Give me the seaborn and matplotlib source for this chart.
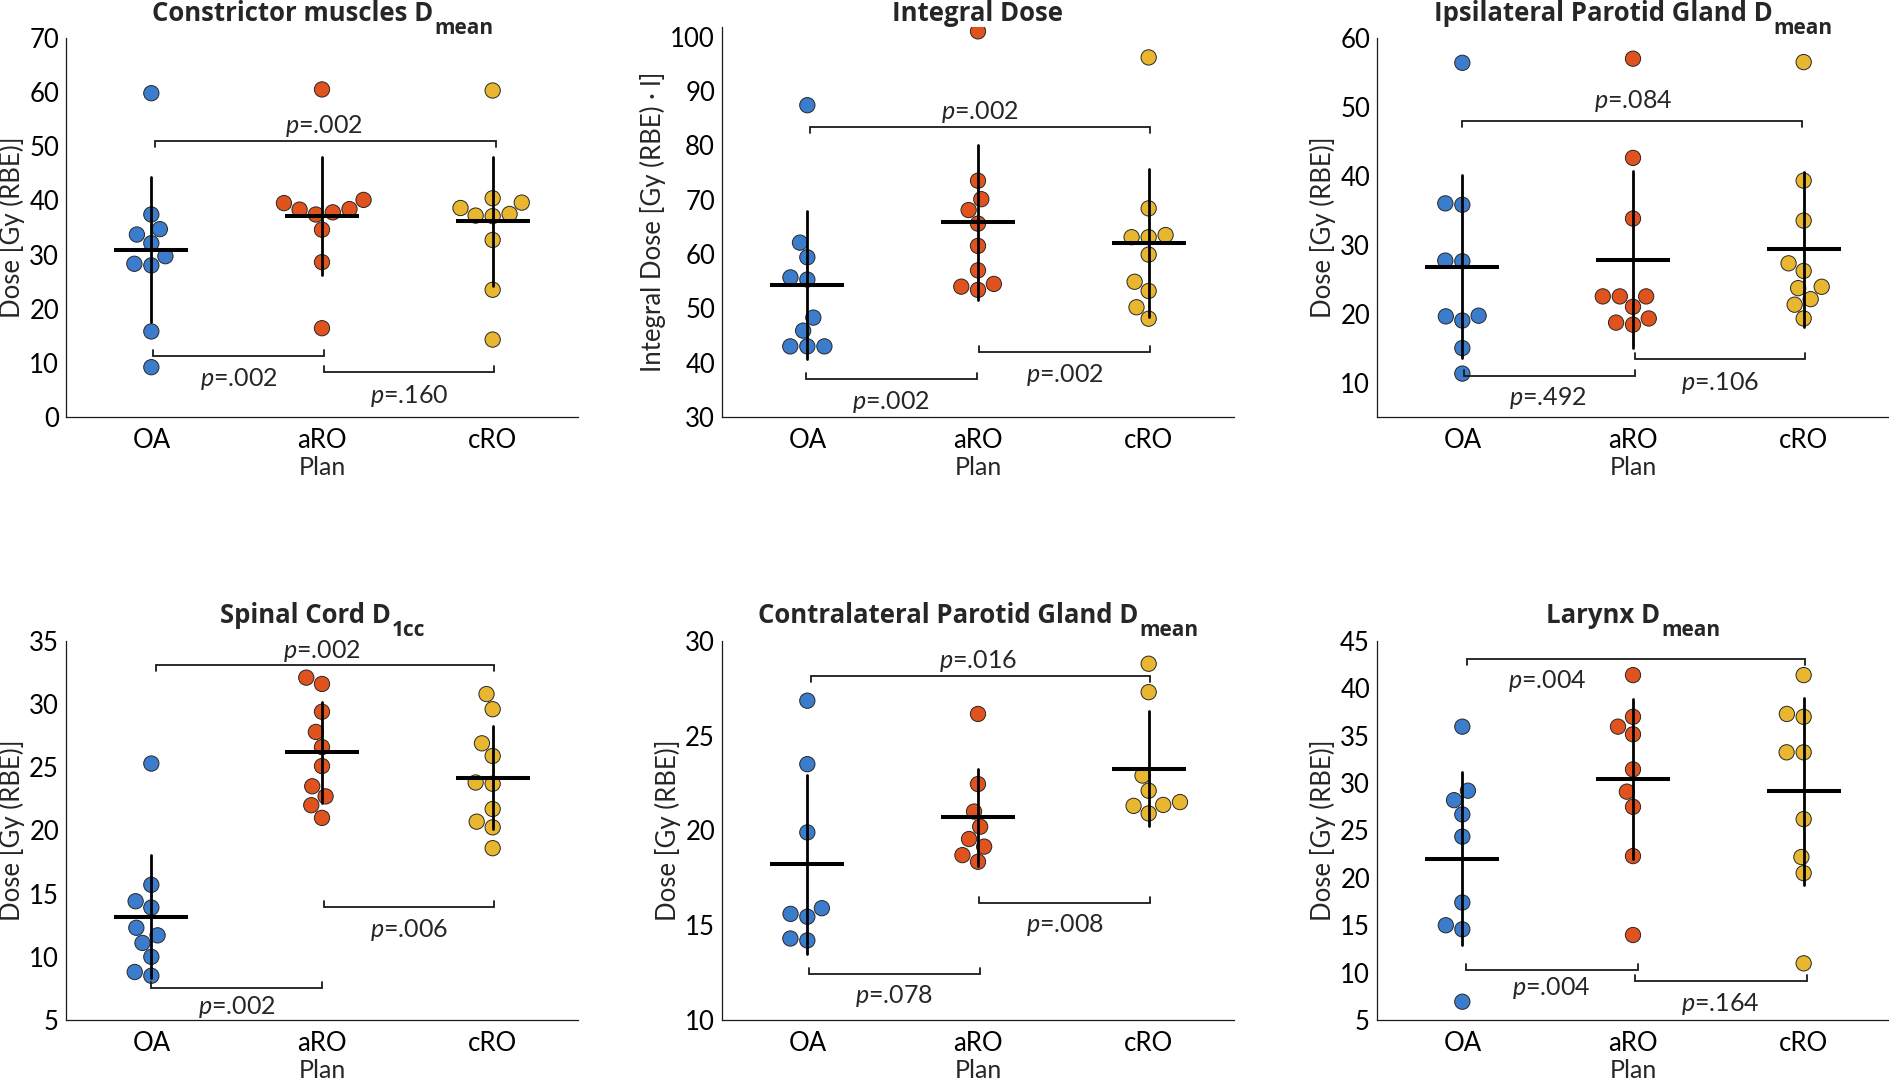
import numpy as np
import pandas as pd
import matplotlib
matplotlib.use('Agg')
import matplotlib.pyplot as plt
import matplotlib.transforms as mtransforms
import seaborn as sns

# Plans and colours
plans = ['OA', 'aRO', 'cRO']
plan_colors = ['#3b7dcc', '#e0531f', '#e8b72f']

# Doses (one value per patient)
constrictor_oa = [59.8, 37.4, 34.7, 33.7, 32.1, 29.7, 28.3, 28.0, 15.8, 9.2]
constrictor_aro = [60.5, 40.1, 39.5, 38.4, 38.3, 37.8, 37.4, 34.6, 28.6, 16.4]
constrictor_cro = [60.3, 40.4, 39.6, 38.6, 37.5, 37.2, 37.1, 32.7, 23.5, 14.3]

integral_oa = [87.4, 62.1, 59.4, 55.7, 55.3, 48.3, 45.9, 43.0, 43.0, 43.0]
integral_aro = [101.0, 73.5, 70.1, 68.1, 65.6, 61.5, 57.0, 54.5, 54.0, 53.4]
integral_cro = [96.2, 68.4, 63.5, 63.1, 63.1, 59.9, 54.9, 53.2, 50.2, 48.1]

ipsi_oa = [56.4, 36.0, 35.8, 27.7, 27.6, 19.7, 19.6, 19.0, 15.0, 11.3]
ipsi_aro = [57.0, 42.6, 33.8, 22.5, 22.5, 22.5, 21.0, 19.3, 18.7, 18.4]
ipsi_cro = [56.5, 39.3, 33.5, 27.3, 26.2, 23.9, 23.7, 22.1, 21.3, 19.3]

spinal_oa = [25.3, 15.7, 14.4, 13.9, 12.3, 11.7, 11.1, 10.0, 8.8, 8.5]
spinal_aro = [32.1, 31.6, 29.4, 27.8, 26.6, 25.1, 23.5, 22.7, 22.0, 21.0]
spinal_cro = [30.8, 29.6, 26.9, 25.9, 23.8, 23.7, 21.7, 20.7, 20.25, 18.6]

contra_oa = [26.85, 23.5, 19.9, 15.9, 15.6, 15.45, 14.3, 14.2]
contra_aro = [26.15, 22.45, 21.0, 20.2, 19.55, 19.15, 18.7, 18.35]
contra_cro = [28.8, 27.3, 22.9, 22.1, 21.5, 21.35, 21.3, 20.9]

larynx_oa = [35.96, 29.2, 28.2, 26.7, 24.35, 17.4, 15.0, 14.57, 6.93]
larynx_aro = [41.4, 37.0, 35.96, 35.15, 31.45, 29.1, 27.5, 22.3, 13.97]
larynx_cro = [41.4, 37.3, 37.0, 33.25, 33.25, 26.2, 22.2, 20.5, 10.98]

# p-values of the pairwise tests: (OA vs cRO, OA vs aRO, aRO vs cRO)
p_constrictor = ['.002', '.002', '.160']
p_integral = ['.002', '.002', '.002']
p_ipsi = ['.084', '.492', '.106']
p_spinal = ['.002', '.002', '.006']
p_contra = ['.016', '.078', '.008']
p_larynx = ['.004', '.004', '.164']

sns.set_style('white')
plt.rcParams['font.family'] = ['Lato', 'DejaVu Sans']
plt.rcParams['mathtext.fontset'] = 'custom'
plt.rcParams['mathtext.it'] = 'Lato:italic'
plt.rcParams['mathtext.rm'] = 'Lato'
plt.rcParams['font.size'] = 18

W, H = 1890, 1082
fig = plt.figure(figsize=(W / 100, H / 100), dpi=100)

# layout (pixels): left, top, width, height, title baseline
# brackets: x1, x2, y, leg direction, text x, text y
panels = [
    dict(main='Constrictor muscles D', sub='mean', ylabel='Dose [Gy (RBE)]',
         values=[constrictor_oa, constrictor_aro, constrictor_cro], pvals=p_constrictor,
         ylim=(0, 70), ticks=np.arange(0, 71, 10), box=(66, 38, 512, 379), tb=21,
         brackets=[(0.02, 2.02, 50.9, -1, 1.01, 54.0), (0.01, 1.01, 11.3, 1, 0.51, 7.2),
                   (1.01, 2.01, 8.24, 1, 1.51, 4.1)]),
    dict(main='Integral Dose', sub='', ylabel='Integral Dose [Gy (RBE) · l]',
         values=[integral_oa, integral_aro, integral_cro], pvals=p_integral,
         ylim=(30, 101.8), ticks=np.arange(30, 101, 10), box=(722, 27, 512, 390), tb=21,
         brackets=[(0.016, 2.007, 83.3, -1, 1.01, 86.3), (-0.007, 0.993, 37.0, 1, 0.49, 33.0),
                   (1.007, 2.01, 41.9, 1, 1.51, 37.9)]),
    dict(main='Ipsilateral Parotid Gland D', sub='mean', ylabel='Dose [Gy (RBE)]',
         values=[ipsi_oa, ipsi_aro, ipsi_cro], pvals=p_ipsi,
         ylim=(5, 60), ticks=np.arange(10, 61, 10), box=(1377, 38, 512, 379), tb=21,
         brackets=[(0.0, 1.99, 48.0, -1, 1.0, 51.0), (0.007, 1.01, 11.0, 1, 0.5, 7.9),
                   (1.014, 2.01, 13.4, 1, 1.51, 10.1)]),
    dict(main='Spinal Cord D', sub='1cc', ylabel='Dose [Gy (RBE)]',
         values=[spinal_oa, spinal_aro, spinal_cro], pvals=p_spinal,
         ylim=(5, 35), ticks=np.arange(5, 36, 5), box=(66, 641, 512, 379), tb=623,
         brackets=[(0.026, 2.01, 33.1, -1, 1.0, 34.3), (0.0, 1.0, 7.5, 1, 0.5, 6.1),
                   (1.014, 2.01, 13.97, 1, 1.51, 12.2)]),
    dict(main='Contralateral Parotid Gland D', sub='mean', ylabel='Dose [Gy (RBE)]',
         values=[contra_oa, contra_aro, contra_cro], pvals=p_contra,
         ylim=(10, 30), ticks=np.arange(10, 31, 5), box=(722, 641, 512, 379), tb=623,
         brackets=[(0.02, 2.007, 28.17, -1, 1.0, 29.0), (0.01, 1.01, 12.41, 1, 0.51, 11.3),
                   (1.007, 2.01, 16.19, 1, 1.51, 15.07)]),
    dict(main='Larynx D', sub='mean', ylabel='Dose [Gy (RBE)]',
         values=[larynx_oa, larynx_aro, larynx_cro], pvals=p_larynx,
         ylim=(5, 45), ticks=np.arange(5, 46, 5), box=(1377, 641, 512, 379), tb=623,
         brackets=[(0.026, 2.01, 43.07, -1, 0.5, 40.9), (0.02, 1.03, 10.28, 1, 0.52, 8.45),
                   (1.014, 2.02, 9.1, 1, 1.51, 6.83)]),
]

renderer = fig.canvas.get_renderer()

for pan in panels:
    left, top, width, height = pan['box']
    ax = fig.add_axes([left / W, 1 - (top + height) / H, width / W, height / H])

    df = pd.DataFrame({
        'plan': np.repeat(plans, [len(v) for v in pan['values']]),
        'dose': np.concatenate(pan['values']),
    })

    ax.set_ylim(*pan['ylim'])
    sns.swarmplot(data=df, x='plan', y='dose', hue='plan', order=plans, hue_order=plans,
                  palette=plan_colors, size=11, edgecolor='#262626', linewidth=0.7,
                  legend=False, ax=ax, zorder=2)
    sns.pointplot(data=df, x='plan', y='dose', order=plans, errorbar='sd', color='black',
                  marker='_', linestyle='none', markersize=53, markeredgewidth=2.9,
                  err_kws={'linewidth': 2.0, 'zorder': 4}, ax=ax, zorder=5)

    ax.set_xlim(-0.5, 2.5)
    ax.set_ylim(*pan['ylim'])
    ax.set_yticks(pan['ticks'])
    ax.set_xticks(range(3))
    ax.set_xticklabels(plans)
    ax.set_xlabel('Plan', labelpad=2, fontsize=18)
    ax.set_ylabel(pan['ylabel'], labelpad=3, fontsize=18.5)
    sns.despine(ax=ax)
    for s in ['left', 'bottom']:
        ax.spines[s].set_linewidth(0.9)
        ax.spines[s].set_color('#1a1a1a')
    ax.tick_params(direction='in', length=5, width=0.9, colors='#1a1a1a',
                   labelcolor='black', labelsize=18.5)
    ax.tick_params(axis='y', pad=5)
    ax.tick_params(axis='x', pad=8)

    # significance brackets
    span = pan['ylim'][1] - pan['ylim'][0]
    leg = 6 / height * span
    text_tr = mtransforms.offset_copy(ax.transData, fig=fig, y=-8, units='dots')
    for (x1, x2, y, d, tx, ty), p in zip(pan['brackets'], pan['pvals']):
        ax.plot([x1, x1, x2, x2], [y + d * leg, y, y, y + d * leg], color='#1a1a1a',
                lw=1.3, zorder=3, solid_joinstyle='miter')
        ax.text(tx, ty, r'$p$=' + p, transform=text_tr, ha='center', va='baseline',
                fontsize=18)

    # title with subscript
    t1 = fig.text(0, 0, pan['main'], fontsize=18.5, fontweight='bold', ha='left',
                  va='baseline', family=['Open Sans', 'DejaVu Sans'])
    t2 = fig.text(0, 0, pan['sub'], fontsize=15, fontweight='bold', ha='left',
                  va='baseline', family=['Open Sans', 'DejaVu Sans'])
    w1 = t1.get_window_extent(renderer).width
    w2 = t2.get_window_extent(renderer).width if pan['sub'] else 0
    x0 = left + width / 2 - (w1 + w2) / 2
    t1.set_position((x0 / W, 1 - pan['tb'] / H))
    t2.set_position(((x0 + w1 + 1) / W, 1 - (pan['tb'] + 12.5) / H))

fig.savefig('out.png', dpi=100)
